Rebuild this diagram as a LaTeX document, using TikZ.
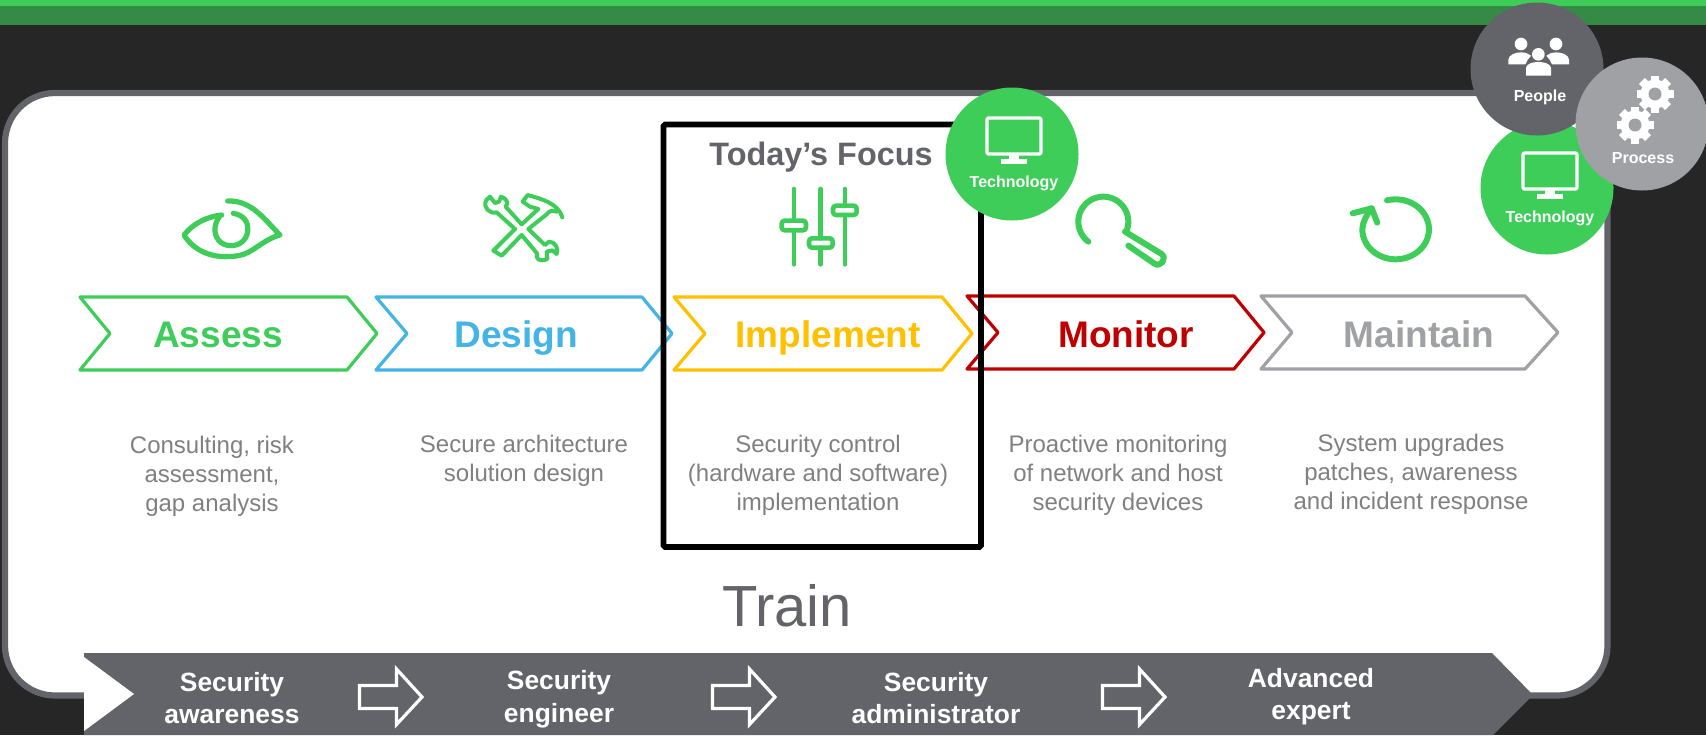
\documentclass[tikz,border=0pt]{standalone}
\usepackage{fontspec}
\setmainfont{Liberation Sans}
\definecolor{bgdark}{HTML}{262626}
\definecolor{grnlight}{HTML}{3DCD58}
\definecolor{grndark}{HTML}{358A46}
\definecolor{slate}{HTML}{636469}
\definecolor{silver}{HTML}{A0A1A5}
\definecolor{bodygray}{HTML}{808080}
\definecolor{dblue}{HTML}{42B4E6}
\definecolor{amber}{HTML}{FFC000}
\definecolor{crimson}{HTML}{C00000}
\tikzset{
  chev/.style={line width=1.6pt,line join=round,fill=none},
  chevlabel/.style={font=\bfseries\fontsize{18.5}{22}\selectfont,inner sep=0pt,anchor=base},
  bodytext/.style={text=bodygray,align=center,inner sep=0pt,font=\fontsize{12}{14.5}\selectfont},
  barlabel/.style={text=white,align=center,inner sep=0pt,font=\bfseries\fontsize{13.2}{16}\selectfont},
  badge/.style={circle,minimum size=66.5pt,inner sep=0pt,draw=none},
  badgelabel/.style={text=white,inner sep=0pt,font=\bfseries\fontsize{8}{10}\selectfont},
  iconline/.style={grnlight,line width=2.6pt,line cap=round,line join=round},
  thinicon/.style={grnlight,line width=2pt,line cap=round,line join=round},
  hollow/.style={draw=white,line width=1.6pt,line join=miter,fill=none},
  screen/.style={draw=white,line width=1.6pt,line join=round,rounded corners=0.6pt},
}
\newcommand{\screenicon}[2]{%
  \draw[screen] (#1-27,#2-18) rectangle (#1+27,#2+18);
  \fill[white] (#1-5,#2+18) rectangle (#1+5,#2+24);
  \fill[white] (#1-13,#2+23) rectangle (#1+13,#2+28);
}
\newcommand{\gearicon}[2]{%
  \fill[white] (#1,#2) circle[radius=14.5];
  \foreach \a in {0,45,...,315}
    \draw[white,line width=4.2pt] ({#1+12*cos(\a-90)},{#2+12*sin(\a-90)}) -- ({#1+18.5*cos(\a-90)},{#2+18.5*sin(\a-90)});
  \fill[silver] (#1,#2) circle[radius=6.5];
}
\newcommand{\hollowarrow}[1]{%
  \draw[hollow,shift={(#1,0)}] (359.5,685.5) -- (396.5,685.5) -- (396.5,669) -- (422,697) -- (396.5,724.5) -- (396.5,708.5) -- (359.5,708.5) -- cycle;
}
\begin{document}
\begin{tikzpicture}[x=0.5pt,y=-0.5pt]
\useasboundingbox (0,0) rectangle (1706,735);
\fill[bgdark] (0,0) rectangle (1706,735);
\fill[grndark] (0,6) rectangle (1706,25);
\fill[grnlight] (0,0) rectangle (1706,6);
% panel
\draw[draw=slate,line width=3.1pt,fill=white,rounded corners=25pt] (5,93) rectangle (1607.5,695.5);
% chevrons
\draw[chev,grnlight] (80,297) -- (347,297) -- (377,333.5) -- (347,370) -- (80,370) -- (110,333.5) -- cycle;
\draw[chev,dblue] (376,297) -- (642,297) -- (672,333.5) -- (642,370) -- (376,370) -- (407,333.5) -- cycle;
\draw[chev,amber] (674,297) -- (942,297) -- (972,333.5) -- (942,370) -- (674,370) -- (705,333.5) -- cycle;
\draw[chev,crimson] (967,296) -- (1234,296) -- (1264,332.5) -- (1234,369) -- (967,369) -- (998,332.5) -- cycle;
\draw[chev,silver] (1261,296) -- (1525,296) -- (1558,332.5) -- (1525,369) -- (1261,369) -- (1292,332.5) -- cycle;
\node[chevlabel,text=grnlight] (lassess) at (218,347) {Assess};
\node[chevlabel,text=dblue] (ldesign) at (516,347) {Design};
\node[chevlabel,text=amber] (limpl) at (828,347) {Implement};
\node[chevlabel,text=crimson] (lmon) at (1126,347) {Monitor};
\node[chevlabel,text=silver] (lmaint) at (1419,347) {Maintain};
% body text
\node[bodytext] (t1) at (212,476) {Consulting, risk\\assessment,\\gap analysis};
\node[bodytext] (t2) at (524,461) {Secure architecture\\solution design};
\node[bodytext] (t3) at (818,475.5) {Security control\\(hardware and software)\\implementation};
\node[bodytext] (t4) at (1118,475.5) {Proactive monitoring\\of network and host\\security devices};
\node[bodytext] (t5) at (1411,474.5) {System upgrades\\patches, awareness\\and incident response};
% eye
\begin{scope}[shift={(175,190)},scale=0.3333]
\draw[iconline] (158,33) .. controls (230,30) and (270,90) .. (315,135) .. controls (260,150) and (235,190) .. (190,197) .. controls (110,210) and (55,180) .. (27,135) .. controls (60,95) and (100,80) .. (140,75);
\draw[iconline] (175,70) .. controls (205,75) and (222,95) .. (218,125) .. controls (214,152) and (192,168) .. (165,167) .. controls (135,165) and (118,142) .. (120,115) .. controls (121,100) and (127,88) .. (135,78);
\end{scope}
% tools
\begin{scope}[shift={(475,185)},scale=0.3333]
\draw[thinicon] (120,132) -- (65,82) .. controls (45,88) and (22,68) .. (34,45) -- (45,35) -- (60,54) -- (72,50) -- (78,35) .. controls (95,40) and (102,55) .. (92,65) -- (140,118) -- (190,72) -- (165,65) -- (143,50) -- (158,30) .. controls (200,42) and (250,55) .. (262,97);
\draw[thinicon] (245,80) .. controls (230,75) and (222,78) .. (215,88) -- (160,132) -- (210,180) -- (222,170) .. controls (240,170) and (252,190) .. (245,207) -- (232,196) -- (215,200) -- (217,222) .. controls (195,232) and (180,222) .. (186,205) -- (140,150) -- (80,212) -- (55,197) -- (120,132);
\end{scope}
% sliders
\begin{scope}[shift={(650,80)},scale=0.3333]
\draw[iconline,line width=2.3pt] (432,327) -- (432,422) (432,451) -- (432,553);
\draw[iconline,line width=2.3pt] (512,327) -- (512,475) (512,503) -- (512,553);
\draw[iconline,line width=2.3pt] (585,327) -- (585,377) (585,405) -- (585,553);
\draw[iconline,line width=2.3pt,rounded corners=1.5pt] (395,422) rectangle (468,451);
\draw[iconline,line width=2.3pt,rounded corners=1.5pt] (477,475) rectangle (548,503);
\draw[iconline,line width=2.3pt,rounded corners=1.5pt] (549,377) rectangle (620,405);
\end{scope}
% magnifier
\begin{scope}[shift={(1040,180)},scale=0.3333]
\draw[iconline,line width=3pt] plot[smooth,domain=25:-233,samples=40,variable=\t] ({190+75*cos(\t)},{125+75*sin(\t)});
\draw[iconline,line width=3pt] (255,155) -- (365,222) .. controls (382,235) and (362,265) .. (342,250) -- (265,197);
\end{scope}
% refresh
\begin{scope}[shift={(1040,180)},scale=0.3333]
\draw[iconline,line width=3pt] plot[smooth,domain=-105:180,samples=40,variable=\t] ({1067+100*cos(\t)},{148+ 90*sin(\t)}) .. controls (968,125) and (980,105) .. (995,85);
\draw[iconline,line width=3pt] (938,100) -- (995,85) -- (1012,128);
\end{scope}
% focus box
\draw[black,line width=2.8pt,rounded corners=0.8pt] (663.5,124.5) rectangle (981,547);
\node[inner sep=0pt,text=slate,font=\bfseries\fontsize{16.2}{20}\selectfont] (focus) at (821,157.5) {Today’s Focus};
% technology badge on box
\node[badge,fill=grnlight] (techa) at (1012,154) {};
\screenicon{1014}{136}
\node[badgelabel] (techalabel) at (1014,183.5) {Technology};
% cluster
\node[badge,fill=grnlight] (techb) at (1547,188) {};
\screenicon{1550}{171}
\node[badgelabel] (techblabel) at (1550,218.5) {Technology};
\node[badge,fill=slate] (people) at (1537,69) {};
\begin{scope}[shift={(1495,25)},scale=0.3333]
\fill[white] (78,57) circle[radius=19] (183,57) circle[radius=19];
\fill[white] (40,118) -- (40,103) .. controls (42,90) and (60,82) .. (78,82) .. controls (90,82) and (100,85) .. (108,92) .. controls (100,100) and (95,108) .. (91,118) -- cycle;
\fill[white] (222,118) -- (222,103) .. controls (220,90) and (202,82) .. (183,82) .. controls (172,82) and (162,85) .. (154,92) .. controls (162,100) and (167,108) .. (171,118) -- cycle;
\fill[white] (130,88) circle[radius=19];
\fill[white] (93,152) -- (93,128) .. controls (96,116) and (112,111) .. (130,111) .. controls (148,111) and (165,116) .. (168,128) -- (168,152) -- cycle;
\end{scope}
\node[badgelabel] (peoplelabel) at (1540,97) {People};
\node[badge,fill=silver] (process) at (1642,124) {};
\gearicon{1655}{94}
\gearicon{1635}{125}
\node[badgelabel] (processlabel) at (1643,158) {Process};
% train
\node[inner sep=0pt,text=slate,font=\fontsize{29}{34}\selectfont] (train) at (787,606) {Train};
\fill[slate] (84,653) -- (1492,653) -- (1533,695) -- (1493,735) -- (84,735) -- cycle;
\fill[white] (84,657) -- (134,694) -- (84,731) -- cycle;
\hollowarrow{0}
\hollowarrow{353}
\hollowarrow{743}
\node[barlabel] (b1) at (232,698) {Security\\awareness};
\node[barlabel,font=\bfseries\fontsize{13.2}{16.6}\selectfont] (b2) at (559,699) {Security\\engineer};
\node[barlabel] (b3) at (936,698) {Security\\administrator};
\node[barlabel] (b4) at (1311,697) {Advanced\\expert};
\end{tikzpicture}
\end{document}
